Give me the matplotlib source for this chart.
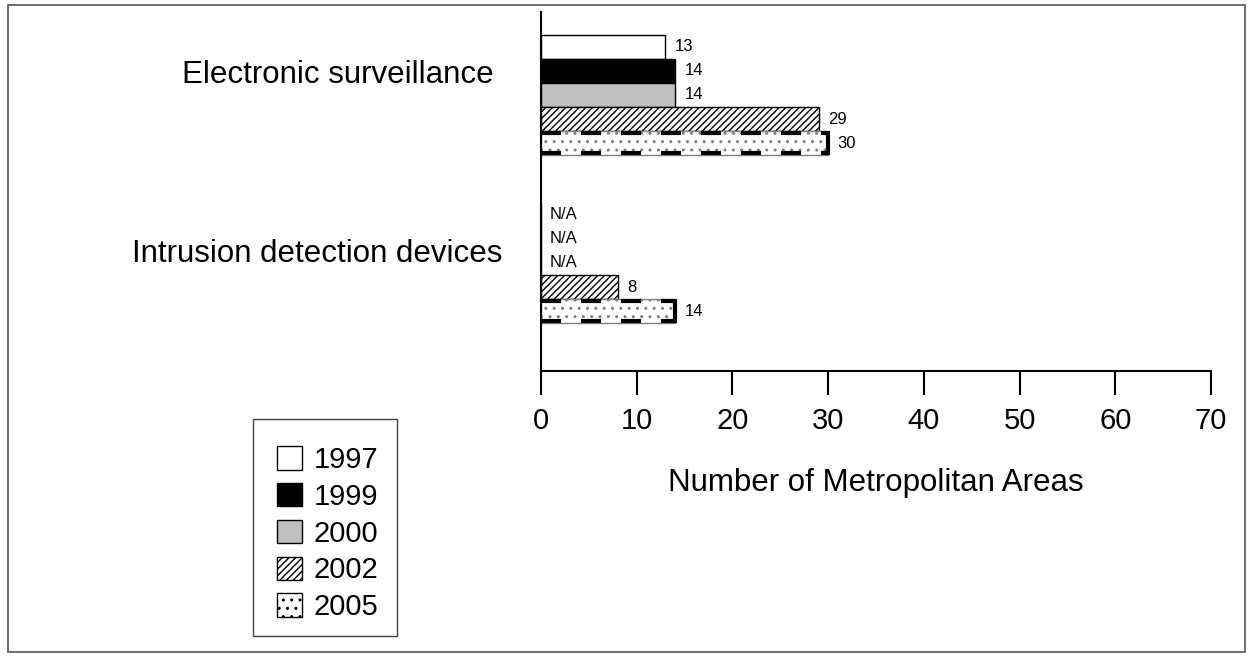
import numpy as np
import matplotlib
matplotlib.use("Agg")
import matplotlib.pyplot as plt
from matplotlib.patches import Rectangle, Patch

plt.rcParams['font.family'] = ['Liberation Sans', 'DejaVu Sans']
plt.rcParams['hatch.linewidth'] = 1.0

# data
categories = ["Intrusion detection devices", "Electronic surveillance"]
years = ["1997", "1999", "2000", "2002", "2005"]
values = {
    "1997": [None, 13],
    "1999": [None, 14],
    "2000": [None, 14],
    "2002": [8, 29],
    "2005": [14, 30],
}
xticks = [0, 10, 20, 30, 40, 50, 60, 70]

# styles per year
styles = {
    "1997": dict(color="white", edgecolor="black", hatch=None),
    "1999": dict(color="black", edgecolor="black", hatch=None),
    "2000": dict(color="#c0c0c0", edgecolor="black", hatch=None),
    "2002": dict(color="white", edgecolor="black", hatch="/////"),
    "2005": dict(color="white", edgecolor="#808080", hatch=".."),
}

W, H = 1252, 656
fig = plt.figure(figsize=(W / 100, H / 100), dpi=100)
ax = fig.add_axes([541 / W, (H - 371) / H, 670 / W, 359 / H])

h = 0.143
ypos = np.arange(len(categories))
for i, yr in enumerate(years):
    offs = (2 - i) * h
    vals = [v if v is not None else 0 for v in values[yr]]
    st = styles[yr]
    bars = ax.barh(ypos + offs, vals, height=h, color=st["color"],
                   edgecolor=st["edgecolor"], hatch=st["hatch"], linewidth=1.0)
    if yr == "2005":
        # thick dashed top/bottom border and solid end cap
        for b in bars:
            y0, y1 = b.get_y() + 0.09 * h, b.get_y() + 0.91 * h
            ax.hlines([y0, y1], 0, b.get_width(), colors="black",
                      linewidth=3, linestyles=[(0, (4.8, 4.8))])
            ax.vlines(b.get_width(), b.get_y(), b.get_y() + h,
                      colors="black", linewidth=3)
    for b, v in zip(bars, values[yr]):
        yc = b.get_y() + b.get_height() / 2
        if v is None:
            ax.text(0.9, yc, "N/A", va="center", ha="left", fontsize=12)
        else:
            ax.text(v + 1.0, yc, str(v), va="center", ha="left", fontsize=12)

ax.set_xlim(0, 70)
ax.set_ylim(-0.643, 1.494)
ax.set_xticks(xticks)
ax.set_xticklabels([str(t) for t in xticks], fontsize=21)
ax.tick_params(axis="x", direction="out", length=17, width=1.5, pad=9)
ax.set_xlabel("Number of Metropolitan Areas", fontsize=22.5, labelpad=24)

# category labels sit a bit above the group centres
label_pos = [0.077, 1.137]
ax.set_yticks(label_pos)
ax.set_yticklabels(categories, fontsize=22.5)
ax.tick_params(axis="y", length=0, pad=28)
ax.get_yticklabels()[1].set_x(-0.012)

for s in ["top", "right"]:
    ax.spines[s].set_visible(False)
ax.spines["left"].set_linewidth(1.5)
ax.spines["bottom"].set_linewidth(1.5)

handles = [Patch(facecolor=styles[y]["color"], edgecolor="black",
                 hatch=styles[y]["hatch"], label=y) for y in years]
leg = fig.legend(handles=handles, loc="upper left",
                 bbox_to_anchor=(277 / W, (H - 446) / H),
                 fontsize=21, frameon=False,
                 handlelength=0.85, handleheight=0.85, handletextpad=0.4,
                 labelspacing=0.3, borderpad=0, borderaxespad=0)

# legend box and outer frame
fig.patches.append(Rectangle((253 / W, (H - 636) / H), 144 / W, 217 / H,
                             transform=fig.transFigure, fill=False,
                             edgecolor="#444444", linewidth=1.0))
fig.patches.append(Rectangle((8 / W, 4 / H), 1237 / W, 647 / H,
                             transform=fig.transFigure, fill=False,
                             edgecolor="#555555", linewidth=1.2))

fig.savefig("out.png", dpi=100)
